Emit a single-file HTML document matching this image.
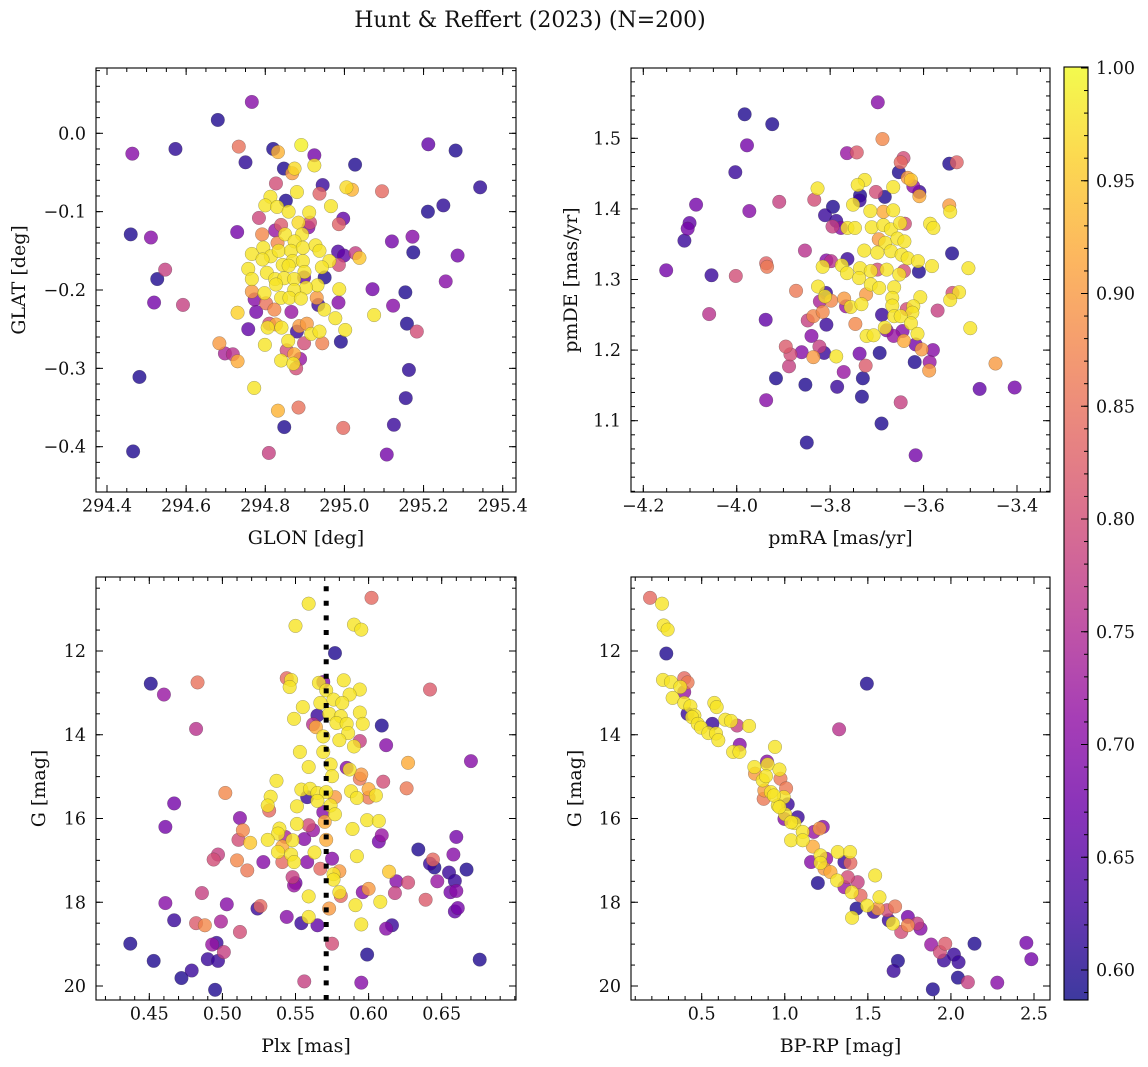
<!DOCTYPE html>
<html><head><meta charset="utf-8"><title>Hunt & Reffert (2023)</title>
<style>
html,body{margin:0;padding:0;background:#fff;}
svg{display:block;font-family:"DejaVu Serif","Liberation Serif",serif;}
</style></head>
<body>
<svg id="fig" xmlns="http://www.w3.org/2000/svg" width="1148" height="1067" viewBox="0 0 1148 1067">
<rect x="0" y="0" width="1148" height="1067" fill="#fff"/>
<text x="530" y="27" text-anchor="middle" font-size="22" fill="#111">Hunt &amp; Reffert (2023) (N=200)</text>
</svg>
<script>
// ---------- data ----------
const p1Glon=[294.766,294.680,294.464,294.573,294.733,294.820,294.832,294.891,294.750,294.847,
294.874,294.868,294.924,294.924,295.027,295.212,295.281,295.343,294.827,294.945,
294.937,294.880,294.813,294.800,294.830,294.852,294.859,294.966,295.005,295.019,
295.095,295.211,295.250,294.911,294.997,294.986,294.784,294.884,294.913,294.909,
294.840,294.825,294.460,294.511,294.729,294.792,294.850,294.893,294.831,294.874,
295.120,295.172,295.174,295.286,294.984,294.999,295.028,295.038,294.766,294.795,
294.814,294.834,294.865,294.895,294.927,294.937,294.962,294.943,294.869,294.895,
294.844,294.793,294.757,294.804,294.859,294.899,294.986,294.547,294.527,294.766,
294.825,294.848,294.873,294.898,294.950,295.256,295.071,295.154,294.987,294.932,
294.903,294.873,294.827,294.798,294.766,294.773,294.802,294.823,294.840,294.861,
294.890,294.930,294.934,294.949,294.985,294.519,294.592,295.123,294.730,294.777,
294.866,294.977,295.075,295.158,295.183,294.757,294.810,294.806,294.827,294.841,
294.880,294.886,294.905,294.916,294.937,295.002,294.991,294.944,294.898,294.858,
294.799,294.684,294.698,294.718,294.730,294.854,294.840,294.873,294.888,294.878,
294.871,294.482,295.163,294.772,295.155,294.832,294.884,294.848,294.997,295.125,
294.466,294.809,295.107];
const p1Glat=[0.040,0.017,-0.026,-0.020,-0.017,-0.020,-0.024,-0.015,-0.037,-0.045,
-0.045,-0.051,-0.028,-0.041,-0.040,-0.014,-0.022,-0.069,-0.064,-0.066,
-0.077,-0.075,-0.081,-0.092,-0.094,-0.086,-0.100,-0.093,-0.069,-0.072,
-0.074,-0.100,-0.092,-0.101,-0.109,-0.116,-0.108,-0.114,-0.114,-0.120,
-0.117,-0.124,-0.129,-0.133,-0.126,-0.129,-0.129,-0.129,-0.140,-0.138,
-0.138,-0.132,-0.152,-0.156,-0.151,-0.156,-0.153,-0.159,-0.154,-0.146,
-0.157,-0.150,-0.150,-0.146,-0.143,-0.150,-0.163,-0.171,-0.163,-0.163,
-0.168,-0.161,-0.173,-0.178,-0.169,-0.177,-0.168,-0.174,-0.186,-0.186,
-0.186,-0.185,-0.186,-0.184,-0.184,-0.189,-0.199,-0.203,-0.199,-0.194,
-0.197,-0.200,-0.193,-0.204,-0.202,-0.212,-0.217,-0.225,-0.210,-0.210,
-0.211,-0.210,-0.219,-0.225,-0.216,-0.216,-0.219,-0.220,-0.229,-0.228,
-0.228,-0.236,-0.232,-0.243,-0.253,-0.250,-0.243,-0.248,-0.244,-0.248,
-0.253,-0.246,-0.243,-0.256,-0.253,-0.251,-0.266,-0.268,-0.268,-0.265,
-0.270,-0.268,-0.281,-0.282,-0.291,-0.277,-0.290,-0.282,-0.288,-0.300,
-0.294,-0.311,-0.302,-0.325,-0.338,-0.354,-0.350,-0.375,-0.376,-0.372,
-0.406,-0.408,-0.410];
const p1Prob=[0.70,0.60,0.70,0.61,0.85,0.60,0.93,0.99,0.61,0.60,
0.97,0.90,0.68,0.98,0.60,0.66,0.60,0.61,0.80,0.62,
0.83,0.98,0.98,0.98,0.98,0.60,0.98,0.98,0.97,0.93,
0.84,0.60,0.61,0.98,0.66,0.83,0.79,0.97,0.80,0.70,
0.82,0.72,0.60,0.70,0.68,0.88,0.98,0.98,0.88,0.98,
0.68,0.70,0.60,0.68,0.64,0.66,0.78,0.95,0.98,0.98,
0.98,0.98,0.98,0.98,0.98,0.98,0.98,0.98,0.98,0.98,
0.98,0.98,0.98,0.98,0.98,0.98,0.80,0.78,0.60,0.98,
0.98,0.98,0.98,0.66,0.60,0.70,0.68,0.60,0.98,0.98,
0.98,0.98,0.98,0.98,0.90,0.70,0.85,0.88,0.98,0.98,
0.98,0.90,0.62,0.98,0.70,0.68,0.78,0.70,0.96,0.68,
0.72,0.98,0.98,0.60,0.80,0.66,0.80,0.98,0.92,0.98,
0.62,0.90,0.90,0.98,0.98,0.98,0.60,0.87,0.80,0.98,
0.98,0.90,0.74,0.76,0.92,0.80,0.98,0.92,0.72,0.80,
0.98,0.60,0.61,0.98,0.61,0.93,0.85,0.60,0.84,0.62,
0.60,0.78,0.68];

const p2Pmra=[-3.698,-3.983,-3.924,-3.978,-3.688,-3.764,-3.743,-4.003,-3.643,-3.649,
-3.545,-3.529,-3.653,-3.634,-3.627,-3.622,-3.609,-3.609,-3.726,-3.741,
-3.827,-3.702,-3.683,-3.665,-3.736,-3.737,-3.751,-3.834,-3.909,-4.087,
-3.973,-3.794,-3.811,-3.787,-3.795,-3.777,-3.763,-3.747,-3.714,-3.686,
-3.665,-3.711,-3.686,-3.670,-3.650,-3.640,-3.545,-3.543,-3.586,-3.579,
-4.101,-4.105,-4.112,-3.696,-3.682,-3.656,-3.641,-3.727,-3.699,-3.670,
-3.647,-3.634,-3.854,-3.539,-4.151,-4.054,-4.002,-3.937,-3.935,-3.808,
-3.798,-3.816,-3.763,-3.775,-3.764,-3.736,-3.738,-3.713,-3.699,-3.679,
-3.652,-3.642,-3.612,-3.610,-3.582,-3.504,-3.826,-3.809,-3.811,-3.798,
-3.822,-3.873,-3.713,-3.695,-3.663,-3.723,-3.667,-3.770,-3.756,-3.733,
-3.766,-3.667,-3.607,-3.538,-3.524,-3.543,-3.636,-3.622,-3.624,-3.570,
-4.059,-3.938,-3.848,-3.836,-3.816,-3.808,-3.746,-3.689,-3.663,-3.649,
-3.627,-3.683,-3.679,-3.664,-3.645,-3.642,-3.613,-3.617,-3.604,-3.580,
-3.500,-3.722,-3.707,-3.840,-3.895,-3.885,-3.861,-3.823,-3.813,-3.836,
-3.787,-3.737,-3.694,-3.724,-3.771,-3.888,-3.619,-3.587,-3.588,-3.446,
-3.916,-3.853,-3.785,-3.730,-3.732,-3.480,-3.405,-3.937,-3.649,-3.690,
-3.850,-3.617];
const p2Pmde=[1.551,1.534,1.520,1.490,1.499,1.479,1.480,1.452,1.472,1.466,
1.464,1.466,1.452,1.444,1.441,1.432,1.424,1.418,1.441,1.434,
1.429,1.424,1.417,1.431,1.419,1.412,1.406,1.413,1.410,1.406,
1.397,1.403,1.391,1.383,1.375,1.373,1.373,1.373,1.397,1.396,
1.398,1.374,1.377,1.371,1.380,1.379,1.405,1.396,1.379,1.373,
1.380,1.372,1.355,1.357,1.352,1.358,1.354,1.341,1.338,1.340,
1.335,1.330,1.341,1.337,1.313,1.306,1.305,1.323,1.318,1.327,
1.326,1.318,1.329,1.320,1.309,1.316,1.302,1.312,1.314,1.314,
1.307,1.312,1.326,1.311,1.319,1.316,1.290,1.281,1.276,1.270,
1.269,1.284,1.293,1.288,1.289,1.279,1.274,1.273,1.261,1.265,
1.262,1.263,1.275,1.281,1.282,1.271,1.258,1.262,1.253,1.256,
1.251,1.243,1.242,1.248,1.254,1.236,1.237,1.250,1.248,1.248,
1.238,1.232,1.228,1.220,1.227,1.213,1.223,1.208,1.201,1.200,
1.231,1.220,1.221,1.220,1.205,1.194,1.197,1.205,1.196,1.190,
1.191,1.195,1.196,1.178,1.169,1.177,1.183,1.183,1.171,1.181,
1.160,1.151,1.148,1.160,1.134,1.145,1.147,1.129,1.126,1.096,
1.069,1.051];
const p2Prob=[0.70,0.60,0.60,0.68,0.88,0.72,0.82,0.62,0.80,0.84,
0.60,0.83,0.60,0.90,0.95,0.70,0.62,0.92,0.98,0.98,
0.98,0.80,0.60,0.98,0.60,0.62,0.98,0.80,0.78,0.68,
0.70,0.60,0.62,0.62,0.78,0.70,0.98,0.98,0.98,0.92,
0.98,0.98,0.98,0.98,0.98,0.80,0.90,0.98,0.98,0.98,
0.66,0.68,0.62,0.90,0.98,0.98,0.98,0.98,0.98,0.98,
0.98,0.98,0.76,0.60,0.68,0.62,0.80,0.83,0.86,0.70,
0.76,0.98,0.62,0.98,0.98,0.98,0.98,0.98,0.80,0.98,
0.98,0.80,0.98,0.60,0.98,0.98,0.98,0.62,0.98,0.88,
0.74,0.86,0.98,0.98,0.98,0.90,0.98,0.90,0.98,0.98,
0.72,0.98,0.98,0.80,0.98,0.98,0.80,0.98,0.98,0.78,
0.76,0.66,0.78,0.88,0.88,0.62,0.88,0.62,0.98,0.98,
0.98,0.98,0.70,0.72,0.70,0.92,0.98,0.68,0.90,0.70,
0.98,0.98,0.98,0.70,0.82,0.80,0.70,0.78,0.62,0.90,
0.98,0.68,0.60,0.82,0.72,0.78,0.60,0.72,0.90,0.90,
0.60,0.60,0.62,0.60,0.60,0.66,0.68,0.70,0.78,0.60,
0.60,0.68];

const p3Plx=[0.559,0.550,0.590,0.595,0.602,0.577,0.451,0.460,0.483,0.482,
0.642,0.544,0.547,0.546,0.566,0.569,0.583,0.594,0.587,0.571,
0.576,0.582,0.567,0.555,0.549,0.565,0.562,0.564,0.573,0.581,
0.578,0.585,0.594,0.596,0.586,0.580,0.569,0.594,0.590,0.609,
0.612,0.670,0.553,0.569,0.559,0.574,0.585,0.587,0.575,0.595,
0.594,0.627,0.626,0.610,0.537,0.502,0.467,0.461,0.512,0.533,
0.531,0.532,0.551,0.554,0.560,0.558,0.565,0.571,0.565,0.574,
0.577,0.577,0.569,0.570,0.588,0.592,0.600,0.600,0.605,0.599,
0.607,0.589,0.551,0.559,0.562,0.539,0.538,0.543,0.548,0.556,
0.571,0.609,0.607,0.660,0.514,0.511,0.519,0.531,0.538,0.541,
0.547,0.549,0.541,0.528,0.563,0.558,0.575,0.592,0.634,0.658,
0.644,0.642,0.645,0.667,0.655,0.659,0.647,0.656,0.660,0.661,
0.659,0.497,0.494,0.510,0.517,0.567,0.580,0.576,0.576,0.614,
0.619,0.627,0.548,0.550,0.549,0.580,0.581,0.600,0.596,0.618,
0.639,0.608,0.591,0.559,0.573,0.486,0.461,0.503,0.524,0.526,
0.544,0.559,0.554,0.565,0.595,0.612,0.616,0.467,0.482,0.488,
0.499,0.512,0.437,0.493,0.496,0.501,0.575,0.599,0.676,0.453,
0.490,0.497,0.479,0.472,0.495,0.556,0.595];
const p3G=[10.87,11.40,11.37,11.49,10.73,12.05,12.78,13.04,12.75,13.86,
12.92,12.65,12.69,12.86,12.76,12.74,12.70,12.92,13.04,12.94,
13.16,13.24,13.24,13.34,13.62,13.54,13.75,13.82,13.50,13.56,
13.72,13.74,13.47,13.74,13.96,14.13,14.04,14.15,14.28,13.78,
14.25,14.63,14.41,14.41,14.77,14.71,14.79,14.83,14.99,14.95,
15.05,14.67,15.28,15.12,15.10,15.39,15.64,16.20,15.99,15.48,
15.69,15.81,15.71,15.31,15.29,15.49,15.39,15.37,15.58,15.69,
15.49,15.90,15.85,16.08,15.35,15.51,15.30,15.50,15.45,16.04,
16.06,16.25,16.13,16.16,16.28,16.24,16.36,16.44,16.52,16.49,
16.51,16.40,16.55,16.44,16.28,16.51,16.58,16.51,16.80,16.67,
16.86,17.04,17.04,17.04,16.81,17.04,16.96,16.90,16.74,16.86,
16.98,17.08,17.17,17.22,17.29,17.49,17.50,17.76,17.73,18.14,
18.22,16.86,16.98,17.00,17.24,17.20,17.26,17.33,17.46,17.27,
17.50,17.53,17.40,17.54,17.60,17.76,17.85,17.68,17.76,17.78,
17.94,17.99,18.07,17.86,18.15,17.78,18.02,18.05,18.15,18.09,
18.35,18.35,18.50,18.55,18.53,18.63,18.55,18.43,18.50,18.55,
18.46,18.71,18.99,19.01,18.97,19.19,18.99,19.25,19.37,19.40,
19.36,19.40,19.63,19.81,20.09,19.89,19.92];
const p3Prob=[0.98,0.98,0.98,0.98,0.84,0.60,0.60,0.72,0.85,0.76,
0.82,0.84,0.98,0.98,0.98,0.70,0.98,0.98,0.98,0.98,
0.98,0.98,0.98,0.98,0.98,0.62,0.76,0.92,0.98,0.98,
0.98,0.98,0.98,0.98,0.98,0.98,0.98,0.78,0.98,0.60,
0.70,0.70,0.98,0.98,0.98,0.98,0.70,0.98,0.98,0.90,
0.86,0.92,0.86,0.80,0.98,0.88,0.68,0.68,0.70,0.98,
0.98,0.84,0.98,0.98,0.98,0.62,0.98,0.98,0.98,0.98,
0.90,0.98,0.70,0.92,0.98,0.98,0.92,0.86,0.98,0.98,
0.98,0.98,0.98,0.80,0.72,0.98,0.98,0.74,0.98,0.70,
0.92,0.72,0.68,0.68,0.88,0.80,0.95,0.98,0.98,0.92,
0.98,0.98,0.84,0.70,0.98,0.70,0.70,0.98,0.60,0.70,
0.84,0.62,0.60,0.60,0.62,0.62,0.72,0.68,0.70,0.68,
0.66,0.78,0.80,0.88,0.86,0.84,0.90,0.98,0.98,0.95,
0.70,0.80,0.78,0.68,0.72,0.98,0.84,0.90,0.70,0.78,
0.82,0.98,0.98,0.98,0.90,0.78,0.70,0.70,0.62,0.84,
0.70,0.98,0.62,0.66,0.98,0.70,0.62,0.62,0.82,0.88,
0.74,0.80,0.60,0.72,0.62,0.78,0.80,0.60,0.60,0.60,
0.62,0.62,0.62,0.60,0.60,0.78,0.70];
const plxMedian=[0.571];

const p4Bprp=[0.189,0.261,0.271,0.295,0.287,0.267,0.395,0.415,0.315,0.371,
0.395,0.325,0.395,0.432,0.415,0.456,0.442,0.476,0.496,0.564,
0.540,0.586,0.600,0.576,0.590,0.642,0.676,0.713,0.785,0.729,
0.689,0.727,0.941,1.327,1.494,0.817,0.893,0.897,0.968,0.974,
1.008,0.867,0.877,0.873,0.917,0.994,1.018,0.958,1.002,0.998,
1.078,1.058,1.108,1.038,1.108,1.175,1.209,1.229,1.169,1.158,
1.215,1.215,1.249,1.239,1.275,1.319,1.393,1.359,1.395,1.315,
1.199,1.379,1.439,1.359,1.403,1.456,1.544,1.570,1.496,1.560,
1.432,1.405,1.536,1.664,1.616,1.626,1.650,1.701,1.741,1.741,
1.797,1.817,1.881,1.966,1.934,2.018,1.958,2.046,2.142,1.681,
1.655,2.042,2.102,1.891,2.279,2.454,2.484,0.821,0.887,0.934,
0.968,1.038];
const p4G=[10.73,10.87,11.39,11.49,12.06,12.69,12.65,12.75,12.74,12.86,
12.98,13.12,13.24,13.32,13.50,13.54,13.58,13.74,13.83,13.74,
13.96,13.97,14.13,13.24,13.34,13.64,13.67,13.78,13.79,14.24,
14.41,14.41,14.29,13.87,12.78,14.77,14.64,14.71,14.83,15.05,
15.28,15.09,15.33,15.53,15.37,15.49,15.66,15.69,15.90,16.01,
15.97,16.11,16.32,16.52,16.52,16.32,16.24,16.20,16.67,17.04,
16.88,17.06,16.96,17.20,17.28,16.80,16.80,17.04,17.06,17.48,
17.54,17.40,17.52,17.64,17.76,17.84,17.36,17.88,18.08,18.15,
18.15,18.37,18.23,18.10,18.19,18.43,18.51,18.71,18.35,18.55,
18.51,18.63,19.01,18.99,19.19,19.25,19.39,19.43,18.99,19.40,
19.64,19.80,19.91,20.08,19.92,18.97,19.36,14.93,14.99,15.45,
15.73,16.09];
const p4Prob=[0.84,0.98,0.98,0.98,0.60,0.98,0.84,0.86,0.98,0.98,
0.72,0.98,0.98,0.98,0.62,0.98,0.98,0.98,0.98,0.62,
0.98,0.98,0.98,0.98,0.98,0.98,0.98,0.78,0.98,0.70,
0.98,0.98,0.98,0.76,0.60,0.98,0.70,0.98,0.98,0.86,
0.86,0.98,0.90,0.86,0.98,0.98,0.62,0.98,0.98,0.70,
0.62,0.98,0.98,0.98,0.98,0.72,0.90,0.70,0.92,0.70,
0.98,0.98,0.72,0.90,0.92,0.98,0.98,0.62,0.84,0.98,
0.60,0.80,0.78,0.72,0.98,0.84,0.98,0.98,0.98,0.90,
0.60,0.98,0.62,0.86,0.80,0.62,0.98,0.80,0.68,0.88,
0.78,0.70,0.72,0.82,0.80,0.62,0.62,0.62,0.60,0.60,
0.62,0.60,0.78,0.60,0.70,0.68,0.68,0.90,0.98,0.98,
0.98,0.98];

// tick values / labels
const p1XTicks=[294.4,294.6,294.8,295.0,295.2,295.4];
const p1XLabels=['294.4','294.6','294.8','295.0','295.2','295.4'];
const p1YTicks=[0.0,-0.1,-0.2,-0.3,-0.4];
const p1YLabels=['0.0','\u22120.1','\u22120.2','\u22120.3','\u22120.4'];
const p2XTicks=[-4.2,-4.0,-3.8,-3.6,-3.4];
const p2XLabels=['\u22124.2','\u22124.0','\u22123.8','\u22123.6','\u22123.4'];
const p2YTicks=[1.1,1.2,1.3,1.4,1.5];
const p2YLabels=['1.1','1.2','1.3','1.4','1.5'];
const p3XTicks=[0.45,0.50,0.55,0.60,0.65];
const p3XLabels=['0.45','0.50','0.55','0.60','0.65'];
const gTicks=[12,14,16,18,20];
const gLabels=['12','14','16','18','20'];
const p4XTicks=[0.5,1.0,1.5,2.0,2.5];
const p4XLabels=['0.5','1.0','1.5','2.0','2.5'];
const cbTicks=[0.60,0.65,0.70,0.75,0.80,0.85,0.90,0.95,1.00];
const cbLabels=['0.60','0.65','0.70','0.75','0.80','0.85','0.90','0.95','1.00'];

// ---------- rendering ----------
const NS='http://www.w3.org/2000/svg';
const svg=document.getElementById('fig');
const TICKFS=17.5, TITLEFS=19;
function el(tag,attrs,parent){const e=document.createElementNS(NS,tag);for(const k in attrs)e.setAttribute(k,attrs[k]);(parent||svg).appendChild(e);return e;}
const PL=[[13,8,135],[65,4,157],[106,0,168],[143,13,164],[177,42,144],[204,71,120],[225,100,98],[242,132,75],[252,166,54],[252,206,37],[240,249,33]];
function plasma(t){t=Math.max(0,Math.min(1,t));const s=t*10;const i=Math.min(9,Math.floor(s));const f=s-i;const a=PL[i],b=PL[i+1];
return 'rgb('+[0,1,2].map(k=>Math.round(a[k]+(b[k]-a[k])*f)).join(',')+')';}
const VMIN=0.587,VMAX=1.0;
function cmap(p){return plasma((p-VMIN)/(VMAX-VMIN));}
function lin(v0,p0,v1,p1){return v=>p0+(v-v0)*(p1-p0)/(v1-v0);}
function range(a,b,s){const r=[];const n=Math.round((b-a)/s);for(let i=0;i<=n;i++)r.push(+(a+i*s).toFixed(6));return r;}

function panel(o){
  const g=el('g',{});
  
  
  const {L,T,R,B}=o;
  const pg=el('g',{},g);
  
  
  const idx=o.xs.map((_,i)=>i).sort((a,b)=>o.ps[a]-o.ps[b]);
  idx.forEach(i=>{
    const c=el('circle',{cx:o.mx(o.xs[i]).toFixed(2),cy:o.my(o.ys[i]).toFixed(2),r:6.8,fill:cmap(o.ps[i]),'fill-opacity':0.8,stroke:'#3a3a3a','stroke-opacity':0.45,'stroke-width':0.5},pg);
    
    
  });
  if(o.extra)o.extra(g);
  const f=el('rect',{x:L,y:T,width:R-L,height:B-T,fill:'none',stroke:'#000','stroke-width':1.1},g);
  
  
  const tg=el('g',{stroke:'#000','stroke-width':1},g);
  
  
  o.xMinor.forEach(v=>{const x=o.mx(v);if(x<L+0.5||x>R-0.5)return;el('line',{x1:x,x2:x,y1:B,y2:B-4},tg);el('line',{x1:x,x2:x,y1:T,y2:T+4},tg);});
  o.yMinor.forEach(v=>{const y=o.my(v);if(y<T+0.5||y>B-0.5)return;el('line',{x1:L,x2:L+4,y1:y,y2:y},tg);el('line',{x1:R,x2:R-4,y1:y,y2:y},tg);});
  o.xTicks.forEach((v,i)=>{const x=o.mx(v);el('line',{x1:x,x2:x,y1:B,y2:B-7},tg);el('line',{x1:x,x2:x,y1:T,y2:T+7},tg);
    const t=el('text',{x:x,y:B+19.5,'text-anchor':'middle','font-size':TICKFS,fill:'#111'},g);t.textContent=o.xLabels[i];
    
    });
  o.yTicks.forEach((v,i)=>{const y=o.my(v);el('line',{x1:L,x2:L+7,y1:y,y2:y},tg);el('line',{x1:R,x2:R-7,y1:y,y2:y},tg);
    const t=el('text',{x:L-10,y:y+6,'text-anchor':'end','font-size':TICKFS,fill:'#111'},g);t.textContent=o.yLabels[i];
    
    });
  const xl=el('text',{x:(L+R)/2,y:B+52,'text-anchor':'middle','font-size':TITLEFS,fill:'#111'},g);xl.textContent=o.xTitle;
  
  
  const cy=(T+B)/2;
  const yl=el('text',{x:o.yTitleX,y:cy,'text-anchor':'middle','font-size':TITLEFS,fill:'#111',transform:'rotate(-90 '+o.yTitleX+' '+cy+')'},g);yl.textContent=o.yTitle;
  
  
}

panel({name:'glon-glat-panel',L:96,T:68,R:516,B:492,
  mx:lin(294.4,107,295.4,502.7),my:lin(0,133.3,-0.4,446.7),
  xs:p1Glon,ys:p1Glat,ps:p1Prob,
  xTicks:p1XTicks,xLabels:p1XLabels,yTicks:p1YTicks,yLabels:p1YLabels,
  xMinor:range(294.35,295.45,0.05),yMinor:range(-0.46,0.08,0.02),
  xTitle:'GLON [deg]',yTitle:'GLAT [deg]',yTitleX:25});
panel({name:'proper-motion-panel',L:631,T:68,R:1050,B:492,
  mx:lin(-4.2,643.3,-3.4,1017),my:lin(1.5,138.3,1.1,420.7),
  xs:p2Pmra,ys:p2Pmde,ps:p2Prob,
  xTicks:p2XTicks,xLabels:p2XLabels,yTicks:p2YTicks,yLabels:p2YLabels,
  xMinor:range(-4.25,-3.30,0.05),yMinor:range(1.0,1.6,0.02),
  xTitle:'pmRA [mas/yr]',yTitle:'pmDE [mas/yr]',yTitleX:577});
const p3mx=lin(0.45,149.3,0.65,441.7);
panel({name:'parallax-panel',L:96,T:577,R:516,B:1000,
  mx:p3mx,my:lin(12,651,20,986),
  xs:p3Plx,ys:p3G,ps:p3Prob,
  xTicks:p3XTicks,xLabels:p3XLabels,yTicks:gTicks,yLabels:gLabels,
  xMinor:range(0.41,0.70,0.01),yMinor:range(10.5,20.5,0.5),
  xTitle:'Plx [mas]',yTitle:'G [mag]',yTitleX:45,
  extra:g=>{const x=p3mx(plxMedian[0]);const l=el('line',{x1:x,x2:x,y1:1000,y2:577,stroke:'#000','stroke-width':5,'stroke-dasharray':'5 9.6'},g);
    
    }});
panel({name:'cmd-panel',L:631,T:577,R:1050,B:1000,
  mx:lin(0.5,701.7,2.5,1034),my:lin(12,651,20,986),
  xs:p4Bprp,ys:p4G,ps:p4Prob,
  xTicks:p4XTicks,xLabels:p4XLabels,yTicks:gTicks,yLabels:gLabels,
  xMinor:range(0.1,2.6,0.1),yMinor:range(10.5,20.5,0.5),
  xTitle:'BP-RP [mag]',yTitle:'G [mag]',yTitleX:581});

// colorbar
(function(){
  const g=el('g',{});
  
  
  const defs=el('defs',{},g);
  const lg=el('linearGradient',{id:'cbg',x1:0,y1:1,x2:0,y2:0},defs);
  for(let i=0;i<=20;i++){el('stop',{offset:(i/20),'stop-color':plasma(i/20)},lg);}
  const L=1064,R=1088,T=67,B=1000;
  const r=el('rect',{x:L,y:T,width:R-L,height:B-T,fill:'url(#cbg)','fill-opacity':0.8},g);
  
  
  const fr=el('rect',{x:L,y:T,width:R-L,height:B-T,fill:'none',stroke:'#000','stroke-width':1.1},g);
  
  
  const my=lin(0.60,970,1.00,68);
  range(0.59,1.0,0.01).forEach(v=>{const y=my(v);if(y<T+0.5||y>B-0.5)return;el('line',{x1:R,x2:R-4,y1:y,y2:y,stroke:'#000'},g);});
  cbTicks.forEach((v,i)=>{const y=my(v);el('line',{x1:R,x2:R-7,y1:y,y2:y,stroke:'#000'},g);
    const t=el('text',{x:R+8,y:y+6,'font-size':TICKFS,fill:'#111'},g);t.textContent=cbLabels[i];
    
    });
})();
</script>
</body></html>
